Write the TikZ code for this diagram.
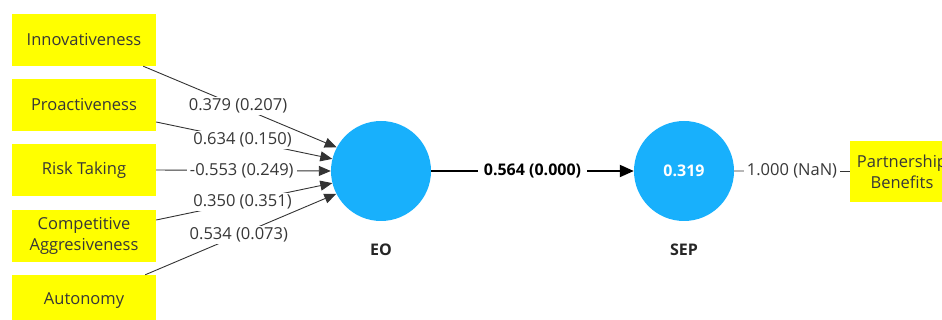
\documentclass[tikz,border=0pt]{standalone}
\usepackage{fontspec}
\setmainfont{Open Sans}
\usetikzlibrary{arrows.meta}
\definecolor{latent}{RGB}{24,176,252}
\definecolor{indyellow}{RGB}{255,255,0}
\definecolor{txt}{RGB}{55,55,55}
\tikzset{
  ind/.style={rectangle, fill=indyellow, minimum width=144pt, minimum height=52pt, inner sep=2pt,
    align=center, text=txt, font=\fontsize{16.5}{21}\selectfont},
  lv/.style={circle, fill=latent, minimum size=100pt, inner sep=0pt},
  lvname/.style={font=\bfseries\fontsize{16}{19}\selectfont, text=black!85},
  inedge/.style={draw=black!80, line width=0.9pt, -{Triangle[length=12pt,width=10pt]}},
  plainedge/.style={draw=black!80, line width=0.9pt},
  mainedge/.style={draw=black, line width=2pt, -{Triangle[length=14pt,width=12pt]}},
  wlbl/.style={fill=white, inner xsep=3pt, inner ysep=1.5pt, text=txt, font=\fontsize{16.5}{19}\selectfont},
  blbl/.style={fill=white, inner xsep=6pt, inner ysep=1.5pt, text=black, font=\bfseries\fontsize{16}{19}\selectfont}
}
\begin{document}
\begin{tikzpicture}[x=1pt,y=-1pt]
\useasboundingbox (0,0) rectangle (942,320);
\clip (0,0) rectangle (942,320);
% indicators
\node[ind] (inn) at (84,40) {Innovativeness};
\node[ind] (pro) at (84,105) {Proactiveness};
\node[ind] (risk) at (84,170) {Risk Taking};
\node[ind] (comp) at (84,236) {Competitive\\Aggresiveness};
\node[ind] (aut) at (84,301) {Autonomy};
\node[ind, minimum width=104pt, minimum height=61pt] (pb) at (902,171.5) {Partnership\\Benefits};
% latent variables
\node[lv] (eo) at (381,171) {};
\node[lv, text=white, font=\bfseries\fontsize{16}{19}\selectfont] (sep) at (684,171) {0.319};
\node[lvname] (eoname) at (381,250) {EO};
\node[lvname] (sepname) at (684,250) {SEP};
% outer weights
\draw[inedge] ([xshift=-13pt]inn.south east) -- (eo.152) node[pos=0.49, wlbl] {0.379 (0.207)};
\draw[inedge] ([yshift=-17pt]pro.east) -- (eo.166) node[pos=0.49, wlbl] {0.634 (0.150)};
\draw[inedge] (risk.east) -- (eo.180) node[pos=0.49, wlbl] {-0.553 (0.249)};
\draw[inedge] ([yshift=16pt]comp.east) -- (eo.194) node[pos=0.49, wlbl] {0.350 (0.351)};
\draw[inedge] ([xshift=-11pt]aut.north east) -- (eo.207) node[pos=0.49, wlbl] {0.534 (0.073)};
% structural path
\draw[mainedge] (eo.east) -- (sep.west) node[midway, blbl] {0.564 (0.000)};
% reflective loading
\draw[plainedge] (sep.east) -- (pb.west) node[midway, wlbl] {1.000 (NaN)};
\end{tikzpicture}
\end{document}
